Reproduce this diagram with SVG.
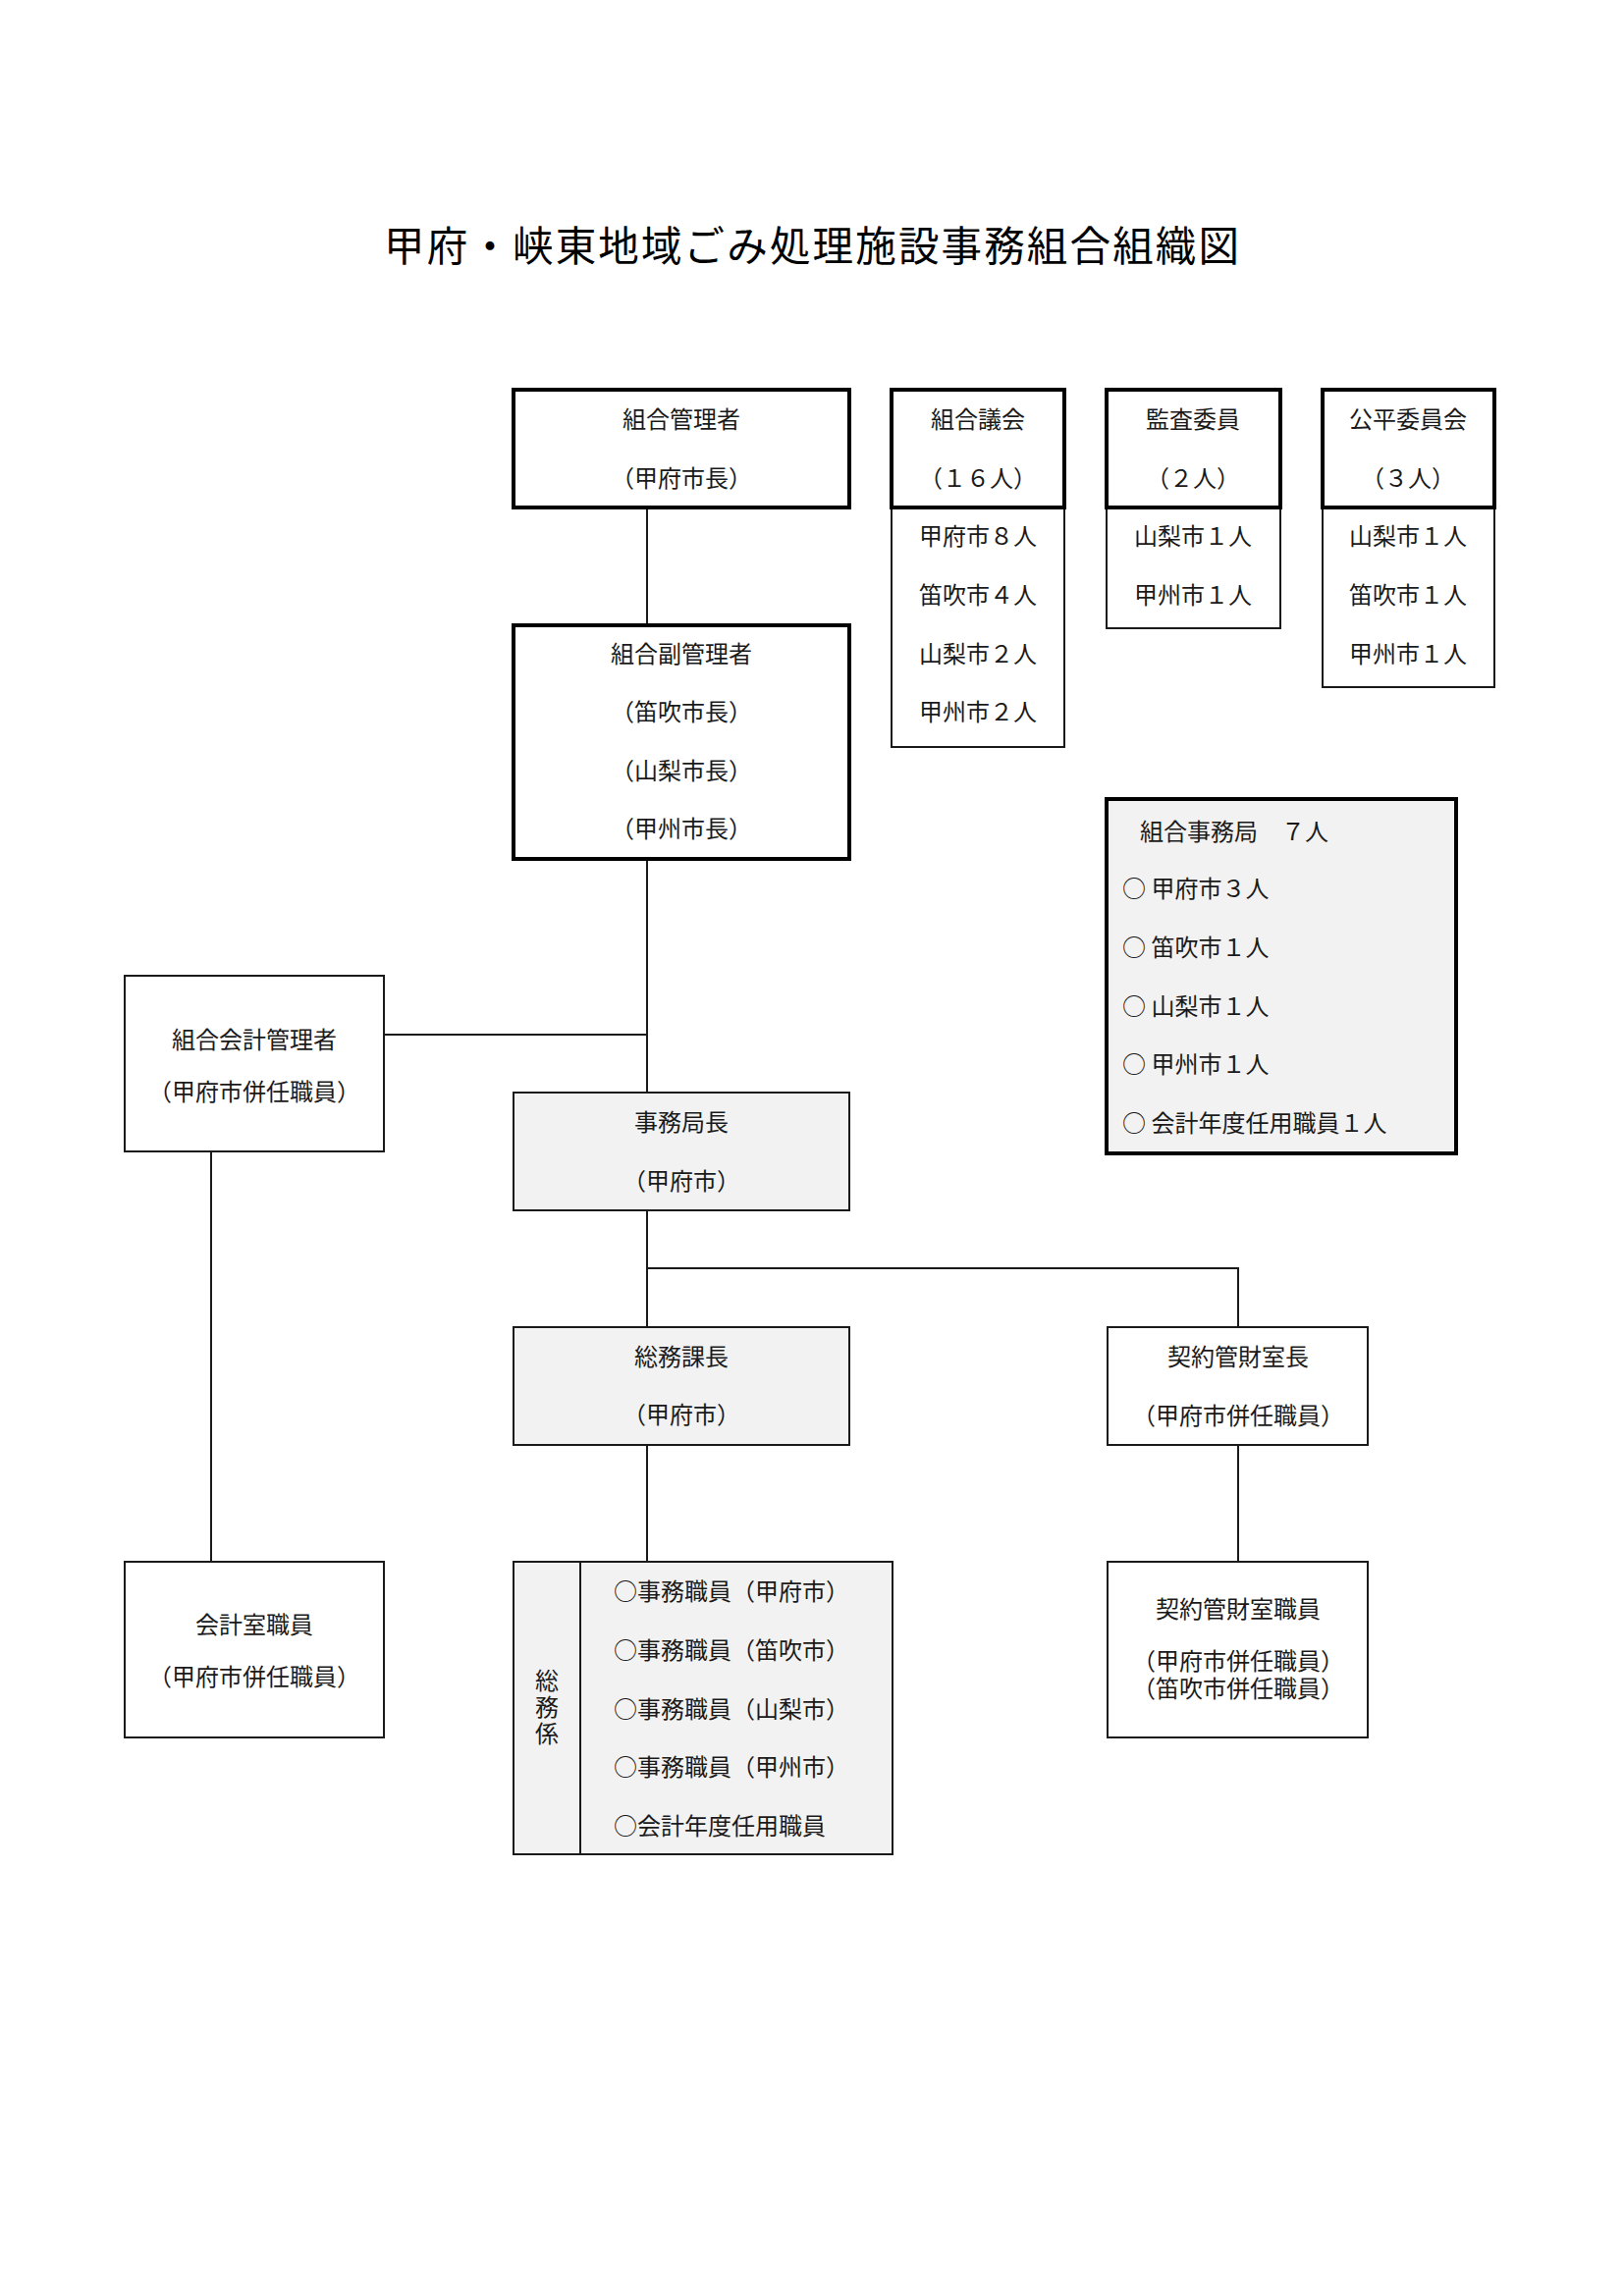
<svg xmlns="http://www.w3.org/2000/svg" width="1654" height="2339" viewBox="0 0 1654 2339">
<style>
text{font-family:"Noto Sans CJK JP","Noto Sans CJK SC",sans-serif;font-size:24px;fill:#1a1a1a}
.c{text-anchor:middle}
.title{font-size:41.5px;fill:#000}
.thick{fill:#fff;stroke:#000;stroke-width:4}
.thin{fill:#fff;stroke:#1a1a1a;stroke-width:2}
.gray{fill:#f2f2f2;stroke:#1a1a1a;stroke-width:2}
.grayThick{fill:#f2f2f2;stroke:#000;stroke-width:4}
.conn line{stroke:#1a1a1a;stroke-width:2}
</style>
<rect width="1654" height="2339" fill="#fff"/>
<text class="title" x="391" y="266" textLength="871" lengthAdjust="spacing">甲府・峡東地域ごみ処理施設事務組合組織図</text>

<g class="conn" id="connectors">
<line x1="659" y1="517" x2="659" y2="637"/>
<line x1="659" y1="875" x2="659" y2="1113"/>
<line x1="391" y1="1054" x2="659" y2="1054"/>
<line x1="215" y1="1173" x2="215" y2="1591"/>
<line x1="659" y1="1233" x2="659" y2="1352"/>
<line x1="659" y1="1292" x2="1261" y2="1292"/>
<line x1="1261" y1="1291" x2="1261" y2="1352"/>
<line x1="659" y1="1472" x2="659" y2="1591"/>
<line x1="1261" y1="1472" x2="1261" y2="1591"/>
</g>

<g id="kanrisha">
<rect class="thick" x="523" y="397" width="342" height="120"/>
<text class="c" x="694" y="436">組合管理者</text>
<text class="c" x="694" y="496">（甲府市長）</text>
</g>

<g id="gikai">
<rect class="thin" x="908" y="517" width="176" height="244"/>
<rect class="thick" x="908" y="397" width="176" height="120"/>
<text class="c" x="996" y="436">組合議会</text>
<text class="c" x="996" y="496">（１６人）</text>
<text class="c" x="996" y="555">甲府市８人</text>
<text class="c" x="996" y="615">笛吹市４人</text>
<text class="c" x="996" y="675">山梨市２人</text>
<text class="c" x="996" y="734">甲州市２人</text>
</g>

<g id="kansa">
<rect class="thin" x="1127" y="517" width="177" height="123"/>
<rect class="thick" x="1127" y="397" width="177" height="120"/>
<text class="c" x="1215" y="436">監査委員</text>
<text class="c" x="1215" y="496">（２人）</text>
<text class="c" x="1215" y="555">山梨市１人</text>
<text class="c" x="1215" y="615">甲州市１人</text>
</g>

<g id="kohei">
<rect class="thin" x="1347" y="517" width="175" height="183"/>
<rect class="thick" x="1347" y="397" width="175" height="120"/>
<text class="c" x="1434" y="436">公平委員会</text>
<text class="c" x="1434" y="496">（３人）</text>
<text class="c" x="1434" y="555">山梨市１人</text>
<text class="c" x="1434" y="615">笛吹市１人</text>
<text class="c" x="1434" y="675">甲州市１人</text>
</g>

<g id="fukukanrisha">
<rect class="thick" x="523" y="637" width="342" height="238"/>
<text class="c" x="694" y="675">組合副管理者</text>
<text class="c" x="694" y="734">（笛吹市長）</text>
<text class="c" x="694" y="794">（山梨市長）</text>
<text class="c" x="694" y="853">（甲州市長）</text>
</g>

<g id="jimukyoku">
<rect class="grayThick" x="1127" y="814" width="356" height="361"/>
<text x="1161" y="856">組合事務局　７人</text>
<text x="1143" y="914">○ 甲府市３人</text>
<text x="1143" y="974">○ 笛吹市１人</text>
<text x="1143" y="1034">○ 山梨市１人</text>
<text x="1143" y="1093">○ 甲州市１人</text>
<text x="1143" y="1153">○ 会計年度任用職員１人</text>
</g>

<g id="kaikeikanrisha">
<rect class="thin" x="127" y="994" width="264" height="179"/>
<text class="c" x="259" y="1068">組合会計管理者</text>
<text class="c" x="259" y="1121">（甲府市併任職員）</text>
</g>

<g id="kyokucho">
<rect class="gray" x="523" y="1113" width="342" height="120"/>
<text class="c" x="694" y="1152">事務局長</text>
<text class="c" x="694" y="1212">（甲府市）</text>
</g>

<g id="somukacho">
<rect class="gray" x="523" y="1352" width="342" height="120"/>
<text class="c" x="694" y="1391">総務課長</text>
<text class="c" x="694" y="1450">（甲府市）</text>
</g>

<g id="keiyakushitsucho">
<rect class="thin" x="1128" y="1352" width="265" height="120"/>
<text class="c" x="1261" y="1391">契約管財室長</text>
<text class="c" x="1261" y="1451">（甲府市併任職員）</text>
</g>

<g id="kaikeishitsu">
<rect class="thin" x="127" y="1591" width="264" height="179"/>
<text class="c" x="259" y="1664">会計室職員</text>
<text class="c" x="259" y="1717">（甲府市併任職員）</text>
</g>

<g id="somugakari">
<rect class="gray" x="523" y="1591" width="386" height="298"/>
<line x1="591" y1="1591" x2="591" y2="1889" stroke="#1a1a1a" stroke-width="2"/>
<text class="c" x="557" y="1740" style="writing-mode:vertical-rl" letter-spacing="3">総務係</text>
<text x="625" y="1630">○事務職員（甲府市）</text>
<text x="625" y="1690">○事務職員（笛吹市）</text>
<text x="625" y="1750">○事務職員（山梨市）</text>
<text x="625" y="1809">○事務職員（甲州市）</text>
<text x="625" y="1869">○会計年度任用職員</text>
</g>

<g id="keiyakushokuin">
<rect class="thin" x="1128" y="1591" width="265" height="179"/>
<text class="c" x="1261" y="1648">契約管財室職員</text>
<text class="c" x="1261" y="1701">（甲府市併任職員）</text>
<text class="c" x="1261" y="1729">（笛吹市併任職員）</text>
</g>
</svg>
